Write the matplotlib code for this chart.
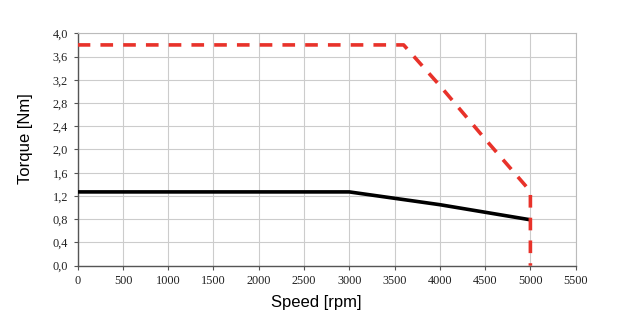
import matplotlib
matplotlib.use("Agg")
import matplotlib.pyplot as plt
from matplotlib.ticker import FuncFormatter

# Data
speed_peak = [0, 3600, 4000, 4500, 5000, 5000]
torque_peak = [3.8, 3.8, 3.1, 2.18, 1.28, 0.0]
speed_cont = [0, 3000, 4000, 5000]
torque_cont = [1.27, 1.27, 1.05, 0.79]
x_ticks = [0, 500, 1000, 1500, 2000, 2500, 3000, 3500, 4000, 4500, 5000, 5500]
y_ticks = [0.0, 0.4, 0.8, 1.2, 1.6, 2.0, 2.4, 2.8, 3.2, 3.6, 4.0]

fig = plt.figure(figsize=(6.22, 3.34), dpi=100)
ax = fig.add_axes([0.1249, 0.2045, 0.8006, 0.6958])

ax.plot(speed_cont, torque_cont, color="black", lw=2.6, solid_capstyle="butt",
        solid_joinstyle="round", zorder=3)
ax.plot(speed_peak, torque_peak, color="#e8322a", lw=2.6, dashes=(3.5, 2.8), zorder=4)

ax.set_xlim(0, 5500)
ax.set_ylim(0, 4.0)
ax.set_xticks(x_ticks)
ax.set_yticks(y_ticks)
ax.yaxis.set_major_formatter(FuncFormatter(lambda v, p: f"{v:.1f}".replace(".", ",")))
ax.xaxis.set_major_formatter(FuncFormatter(lambda v, p: f"{int(v)}"))

ax.grid(True, color="#cccccc", lw=0.8)
ax.set_axisbelow(True)
for s in ["top", "right"]:
    ax.spines[s].set_color("#bbbbbb")
    ax.spines[s].set_linewidth(0.8)
for s in ["left", "bottom"]:
    ax.spines[s].set_color("#555555")
    ax.spines[s].set_linewidth(1.0)

ax.tick_params(axis="both", length=3, width=0.8, color="#555555", labelsize=8.8, pad=4)
for lab in ax.get_xticklabels() + ax.get_yticklabels():
    lab.set_fontfamily("Liberation Serif")
    lab.set_color("#222222")

fig.text(316 / 622, 1 - 302 / 334, "Speed [rpm]", ha="center", va="center",
         fontsize=12, family="Liberation Sans")
fig.text(25.5 / 622, 1 - 139 / 334, "Torque [Nm]", ha="center", va="center",
         rotation=90, fontsize=12, family="Liberation Sans")

fig.savefig("out.png", dpi=100)
